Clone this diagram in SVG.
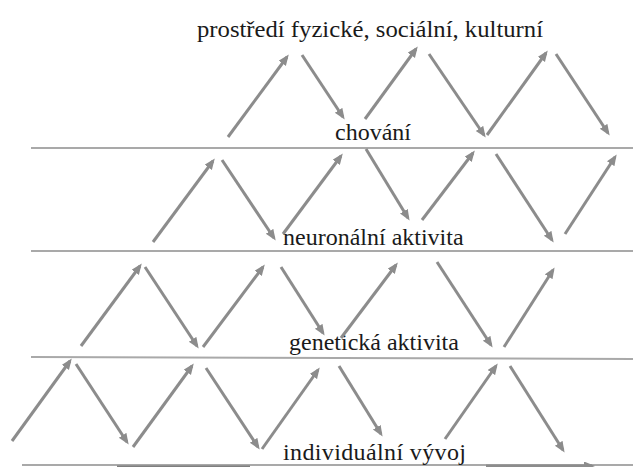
<svg xmlns="http://www.w3.org/2000/svg" width="633" height="467" viewBox="0 0 633 467">
  <style>
    text { font-family: 'Liberation Serif', 'Times New Roman', Tinos, 'DejaVu Serif', serif; font-size: 24px; fill: #1a1a1a; }
    .sep { stroke: #a9a9a9; stroke-width: 2; fill: none; }
    .arr { stroke: #8c8c8c; stroke-width: 3; fill: none; marker-end: url(#ah); }
    .bar { stroke: #7f7f7f; stroke-width: 3; fill: none; }
  </style>
  <defs>
    <marker id="ah" markerUnits="userSpaceOnUse" markerWidth="12" markerHeight="10" refX="8" refY="4.5" orient="auto">
      <path d="M0,0 L11,4.5 L0,9 z" fill="#8c8c8c"/>
    </marker>
  </defs>
  <rect width="633" height="467" fill="#ffffff"/>

  <g id="separators">
    <line class="sep" x1="31" y1="148" x2="633" y2="148"/>
    <line class="sep" x1="31" y1="251" x2="633" y2="251"/>
    <line class="sep" x1="31" y1="357" x2="633" y2="359"/>
    <line class="sep" x1="22" y1="465" x2="633" y2="465"/>
  </g>

  <g id="node-prostredi"><text x="197" y="37" font-family="Liberation Serif, serif" textLength="346" lengthAdjust="spacingAndGlyphs">prostředí fyzické, sociální, kulturní</text></g>
  <g id="node-chovani"><text x="335" y="140" font-family="Liberation Serif, serif">chování</text></g>
  <g id="node-neuronalni"><text x="283" y="245" font-family="Liberation Serif, serif">neuronální aktivita</text></g>
  <g id="node-geneticka"><text x="289" y="350" font-family="Liberation Serif, serif">genetická aktivita</text></g>
  <g id="node-individualni"><text x="283" y="460" font-family="Liberation Serif, serif" textLength="183" lengthAdjust="spacing">individuální vývoj</text></g>

  <g id="connectors">
    <line class="arr" x1="228" y1="137" x2="287" y2="57"/>
    <line class="arr" x1="302" y1="55" x2="343" y2="117"/>
    <line class="arr" x1="365" y1="119" x2="416" y2="49"/>
    <line class="arr" x1="429" y1="54" x2="484" y2="135"/>
    <line class="arr" x1="487" y1="135" x2="546" y2="53"/>
    <line class="arr" x1="556" y1="54" x2="608" y2="133"/>

    <line class="arr" x1="153" y1="242" x2="213" y2="161"/>
    <line class="arr" x1="222" y1="160" x2="274" y2="238"/>
    <line class="arr" x1="283" y1="234" x2="341" y2="156"/>
    <line class="arr" x1="366" y1="149" x2="408" y2="218"/>
    <line class="arr" x1="422" y1="220" x2="473" y2="153"/>
    <line class="arr" x1="496" y1="154" x2="552" y2="240"/>
    <line class="arr" x1="565" y1="234" x2="615" y2="157"/>

    <line class="arr" x1="81" y1="346" x2="140" y2="266"/>
    <line class="arr" x1="145" y1="267" x2="197" y2="346"/>
    <line class="arr" x1="203" y1="347" x2="263" y2="267"/>
    <line class="arr" x1="281" y1="267" x2="323" y2="333"/>
    <line class="arr" x1="341" y1="338" x2="396" y2="265"/>
    <line class="arr" x1="437" y1="262" x2="491" y2="345"/>
    <line class="arr" x1="504" y1="347" x2="553" y2="270"/>

    <line class="arr" x1="12" y1="441" x2="70" y2="361"/>
    <line class="arr" x1="76" y1="364" x2="127" y2="442"/>
    <line class="arr" x1="133" y1="447" x2="192" y2="366"/>
    <line class="arr" x1="206" y1="368" x2="258" y2="447"/>
    <line class="arr" x1="262" y1="449" x2="318" y2="370"/>
    <line class="arr" x1="339" y1="366" x2="381" y2="434"/>
    <line class="arr" x1="445" y1="439" x2="496" y2="366"/>
    <line class="arr" x1="510" y1="366" x2="563" y2="450"/>

    <line class="bar" x1="117" y1="467" x2="250" y2="467"/>
    <line class="arr" x1="486" y1="466" x2="592" y2="466"/>
  </g>
</svg>
